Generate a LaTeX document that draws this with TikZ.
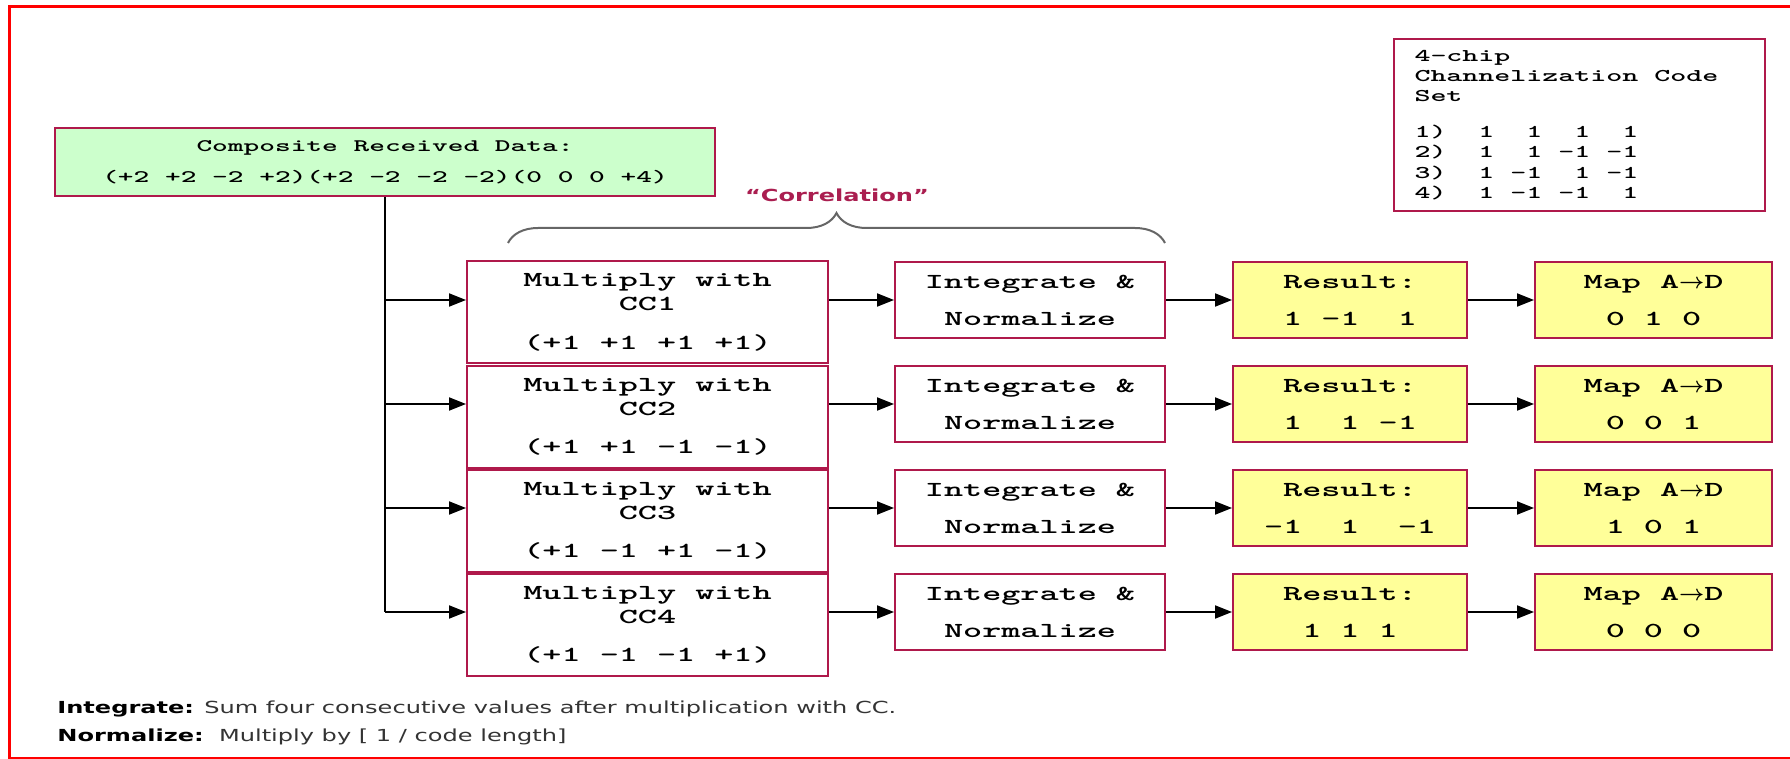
\documentclass[tikz,border=0pt]{standalone}
\usepackage{amsmath}
\usepackage{fontspec}
\usepackage{tikz}
\usetikzlibrary{arrows.meta, decorations.pathreplacing}

\newfontfamily\boxfont[FakeStretch=1.7]{lmmonolt10-bold.otf}
\newfontfamily\notefont[FakeStretch=1.45]{DejaVu Sans}

% one character cell of the mono font, and a right aligned 3-cell column
\newcommand\cellsp{\hphantom{0}}
\newcommand\chipslot[1]{\hphantom{000}\llap{#1}}

\definecolor{boxred}{RGB}{175,25,75}
\definecolor{corrred}{RGB}{170,30,80}
\definecolor{datagreen}{RGB}{204,255,204}
\definecolor{resyellow}{RGB}{255,255,153}

\tikzset{
  blk/.style={draw=boxred, line width=1pt, inner sep=0pt, align=center},
  mulbox/.style={blk, minimum width=180.5pt, minimum height=51pt, font=\boxfont\fontsize{10.7}{12}\selectfont},
  intbox/.style={blk, minimum width=135pt, minimum height=38pt, font=\boxfont\fontsize{10.7}{18.5}\selectfont},
  resbox/.style={intbox, fill=resyellow, minimum width=117pt},
  mapbox/.style={intbox, fill=resyellow, minimum width=118.5pt},
  flow/.style={line width=0.9pt, -{Triangle[length=8.5pt,width=6.5pt]}},
  note/.style={inner sep=0pt, font=\notefont\fontsize{8.3}{10}\selectfont}
}

\begin{document}
\begin{tikzpicture}[x=0.5pt, y=-0.5pt]
\useasboundingbox (0,0) rectangle (1790,759);

% frame, right edge runs off the page
\draw[red, line width=1.5pt] (1800,7) -- (9,7) -- (9,758.5) -- (1800,758.5);

\node[blk, fill=datagreen, minimum width=330pt, minimum height=34pt, font=\boxfont\fontsize{8.8}{15.5}\selectfont] (CRD) at (385,162) {Composite Received Data:\\(+2 +2 -2 +2)(+2 -2 -2 -2)(0 0 0 +4)};

\node[blk, align=left, text width=165pt, inner xsep=10.25pt, minimum height=86pt, font=\boxfont\fontsize{8.96}{10.2}\selectfont] (CCS) at (1579.5,125) {4-chip\\Channelization\cellsp Code\\Set\\[7.6pt]%
1)\chipslot{1}\chipslot{1}\chipslot{1}\chipslot{1}\\
2)\chipslot{1}\chipslot{1}\chipslot{-1}\chipslot{-1}\\
3)\chipslot{1}\chipslot{-1}\chipslot{1}\chipslot{-1}\\
4)\chipslot{1}\chipslot{-1}\chipslot{-1}\chipslot{1}};

% brace over the correlation stage
\draw[decorate, decoration={brace, amplitude=15pt}, gray!80!black, line width=1pt] (508,243) -- (1165,243);
\node[note, anchor=base, text=corrred, font=\notefont\fontsize{8.3}{10}\selectfont\bfseries] (corr) at (837,202) {“Correlation”};

\node[mulbox] (M1) at (647.5,312.5) {Multiply with\\CC1\\[7.2pt](+1 +1 +1 +1)};
\node[mulbox] (M2) at (647.5,417) {Multiply with\\CC2\\[7.2pt](+1 +1 -1 -1)};
\node[mulbox] (M3) at (647.5,521) {Multiply with\\CC3\\[7.2pt](+1 -1 +1 -1)};
\node[mulbox] (M4) at (647.5,625) {Multiply with\\CC4\\[7.2pt](+1 -1 -1 +1)};

\node[intbox] (I1) at (1030,300) {Integrate \&\\Normalize};
\node[intbox] (I2) at (1030,404) {Integrate \&\\Normalize};
\node[intbox] (I3) at (1030,508) {Integrate \&\\Normalize};
\node[intbox] (I4) at (1030,612) {Integrate \&\\Normalize};

\node[resbox] (R1) at (1350,300) {Result:\\1 -1~~1};
\node[resbox] (R2) at (1350,404) {Result:\\1~~1 -1};
\node[resbox] (R3) at (1350,508) {Result:\\-1~~1~~-1};
\node[resbox] (R4) at (1350,612) {Result:\\1 1 1};

\node[mapbox] (D1) at (1653.5,300) {Map A{\boldmath$\rightarrow$}D\\0 1 0};
\node[mapbox] (D2) at (1653.5,404) {Map A{\boldmath$\rightarrow$}D\\0 0 1};
\node[mapbox] (D3) at (1653.5,508) {Map A{\boldmath$\rightarrow$}D\\1 0 1};
\node[mapbox] (D4) at (1653.5,612) {Map A{\boldmath$\rightarrow$}D\\0 0 0};

% feed from the received data
\draw[line width=0.9pt] (CRD.south) -- (CRD.south |- I4);
\draw[flow] (CRD.south |- I1) -- (M1.west |- I1);
\draw[flow] (CRD.south |- I2) -- (M2.west |- I2);
\draw[flow] (CRD.south |- I3) -- (M3.west |- I3);
\draw[flow] (CRD.south |- I4) -- (M4.west |- I4);

\draw[flow] (M1.east |- I1) -- (I1);
\draw[flow] (M2.east |- I2) -- (I2);
\draw[flow] (M3.east |- I3) -- (I3);
\draw[flow] (M4.east |- I4) -- (I4);

\draw[flow] (I1) -- (R1);
\draw[flow] (I2) -- (R2);
\draw[flow] (I3) -- (R3);
\draw[flow] (I4) -- (R4);

\draw[flow] (R1) -- (D1);
\draw[flow] (R2) -- (D2);
\draw[flow] (R3) -- (D3);
\draw[flow] (R4) -- (D4);

\node[note, anchor=base west] (intdef) at (57,713) {\textbf{Integrate:} {\color{black!80}Sum four consecutive values after multiplication with CC.}};
\node[note, anchor=base west] (normdef) at (57,741) {\textbf{Normalize:}~~{\color{black!80}Multiply by [ 1 / code length]}};

\end{tikzpicture}
\end{document}
